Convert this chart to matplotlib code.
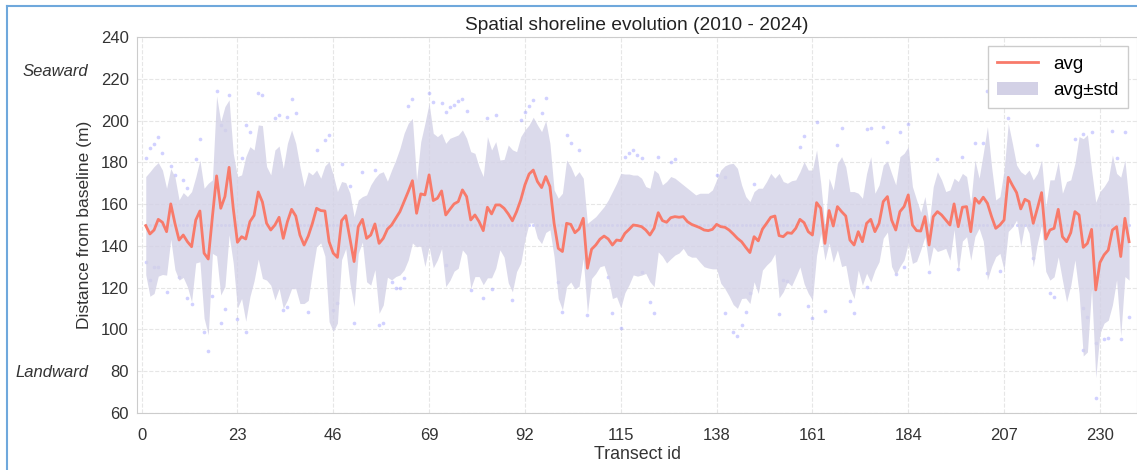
import numpy as np
import matplotlib
matplotlib.use("Agg")
from matplotlib import pyplot as plt
from matplotlib.lines import Line2D

plt.rcParams['font.family'] = ['Liberation Sans', 'DejaVu Sans']

# transect ids 1..237
transect_id = list(range(1, 238))

avg = [
    149.7, 145.7, 147.6, 152.7, 151.3, 146.8, 160.1, 150.8, 142.8, 145.2,
    142.0, 139.6, 152.4, 156.7, 136.5, 133.7, 154.0, 173.5, 158.0, 163.6,
    177.6, 158.0, 141.7, 144.4, 143.3, 151.6, 154.6, 165.8, 161.0, 150.8,
    147.6, 150.0, 153.7, 143.6, 151.6, 157.5, 154.3, 145.2, 140.4, 144.7,
    150.8, 158.0, 156.9, 156.7, 142.0, 136.5, 134.5, 152.1, 154.5, 143.6,
    132.5, 149.2, 152.7, 143.6, 145.2, 150.5, 141.2, 143.6, 148.0, 150.0,
    153.2, 156.4, 161.2, 166.0, 171.2, 155.6, 164.9, 164.4, 174.0, 161.7,
    162.8, 166.3, 154.8, 157.5, 160.1, 161.2, 166.8, 163.6, 152.4, 154.8,
    151.6, 147.3, 158.5, 155.3, 159.6, 159.6, 158.0, 155.3, 152.0, 156.4,
    162.0, 169.2, 174.4, 176.3, 170.8, 167.9, 173.2, 168.4, 150.8, 138.8,
    137.3, 150.8, 150.3, 146.3, 148.1, 153.2, 129.3, 138.4, 140.4, 143.2,
    144.7, 143.3, 140.4, 142.8, 142.5, 146.0, 147.9, 150.0, 149.7, 149.2,
    147.6, 145.2, 148.4, 155.9, 152.1, 151.3, 153.5, 154.0, 153.7, 154.0,
    151.6, 150.3, 149.5, 148.7, 147.6, 147.3, 147.9, 150.3, 149.2, 148.9,
    147.6, 145.7, 143.6, 142.0, 139.3, 136.8, 144.4, 142.4, 148.0, 150.8,
    153.7, 154.3, 144.9, 144.4, 146.3, 146.0, 148.4, 152.7, 151.1, 146.8,
    145.2, 160.7, 158.0, 141.2, 156.9, 149.5, 158.8, 156.4, 154.3, 142.8,
    140.4, 146.8, 142.0, 150.8, 152.7, 146.8, 150.8, 161.2, 163.6, 152.4,
    147.6, 156.4, 158.8, 164.4, 150.0, 147.3, 147.1, 154.0, 140.4, 154.0,
    156.4, 154.8, 152.4, 150.0, 160.1, 149.2, 158.5, 158.8, 146.8, 162.8,
    160.4, 163.3, 160.4, 154.0, 148.4, 150.0, 152.4, 172.8, 169.0, 165.5,
    157.7, 162.3, 161.2, 150.8, 158.0, 165.5, 143.3, 147.6, 148.4, 157.5,
    144.4, 142.0, 146.3, 156.4, 154.8, 139.3, 141.2, 147.9, 118.9, 132.0,
    135.7, 138.0, 147.6, 149.2, 134.9, 153.2, 142.0,
]

std = [
    23.5, 29.8, 30.4, 27.2, 25.0, 20.8, 16.9, 22.2, 19.2, 20.3,
    21.6, 26.4, 20.6, 24.3, 31.1, 36.3, 17.6, 38.3, 41.5, 43.1,
    32.3, 26.3, 31.5, 29.6, 39.4, 35.9, 31.3, 32.1, 36.6, 27.2,
    26.4, 35.9, 34.1, 33.5, 37.5, 38.0, 34.8, 32.8, 28.0, 30.8,
    23.2, 18.3, 15.5, 21.6, 38.3, 37.5, 31.5, 18.7, 15.8, 21.6,
    21.5, 12.8, 10.9, 20.8, 24.0, 21.9, 33.5, 31.9, 23.0, 26.3,
    27.9, 30.3, 32.7, 32.7, 29.8, 16.0, 25.0, 34.3, 34.3, 32.2,
    29.5, 27.6, 34.3, 34.0, 32.2, 31.9, 28.7, 27.9, 32.7, 29.5,
    26.3, 25.9, 33.8, 30.6, 30.3, 21.5, 23.4, 33.0, 34.0, 28.7,
    30.3, 26.3, 23.5, 25.3, 27.1, 26.8, 26.8, 20.7, 16.0, 24.0,
    27.9, 30.3, 27.6, 26.9, 27.4, 19.2, 21.5, 14.0, 13.6, 13.2,
    14.1, 18.7, 25.6, 27.2, 32.2, 28.4, 26.5, 23.9, 24.2, 23.2,
    20.8, 22.4, 27.9, 18.8, 17.1, 19.5, 19.7, 18.4, 17.1, 15.2,
    16.0, 15.7, 14.9, 16.5, 17.6, 17.9, 18.9, 21.3, 27.1, 29.4,
    31.6, 33.8, 33.5, 27.2, 24.3, 24.4, 21.6, 25.2, 19.6, 20.0,
    21.0, 18.1, 29.8, 26.4, 23.7, 25.2, 23.2, 22.8, 29.2, 29.5,
    31.1, 25.2, 12.0, 8.0, 15.5, 17.3, 20.7, 26.3, 23.6, 23.2,
    25.6, 18.4, 20.8, 23.9, 30.0, 18.4, 18.4, 17.5, 17.0, 22.3,
    21.6, 26.3, 25.5, 23.1, 18.4, 14.7, 9.0, 9.6, 10.0, 14.4,
    19.1, 16.8, 13.6, 16.8, 12.3, 21.6, 16.2, 14.4, 13.6, 18.3,
    12.0, 21.0, 36.7, 23.9, 13.6, 13.6, 23.9, 25.9, 20.0, 13.2,
    17.8, 11.7, 15.1, 20.8, 16.7, 15.6, 15.5, 24.0, 23.2, 22.8,
    20.8, 28.8, 25.3, 23.1, 37.5, 52.0, 52.0, 28.4, 42.0, 34.0,
    32.7, 33.6, 35.9, 25.5, 38.0, 27.9, 18.4,
]

# individual yearly positions (outliers mostly)
dot_ids = [
    1, 2, 3, 4, 5, 1, 2, 3, 4, 6, 7, 8, 9, 10, 11, 11, 12, 13, 14, 15,
    16, 17, 18, 19, 20, 21, 20, 19, 23, 25, 25, 26, 24, 28,
    29, 32, 33, 35, 36, 37, 34, 35, 40, 44, 45, 46, 47, 51, 57, 58, 53, 56, 50, 48, 42,
    64, 65, 69, 70, 72, 73, 74, 75, 76, 77, 78, 83, 85, 61, 62, 63, 79, 82, 84, 73, 60,
    92, 93, 94, 97, 96, 91, 102, 103, 105, 101, 107, 113, 115, 89, 100, 112, 116, 117, 118,
    119, 120, 124, 127, 128, 122, 123, 120, 140, 142, 143, 144, 145, 146, 138, 140, 147,
    162, 159, 158, 168, 167, 174, 175, 178, 153, 161, 160, 164, 171, 170, 174, 154, 155,
    184, 182, 179, 203, 200, 202, 181, 183, 189, 196, 203, 206, 208, 191, 197,
    224, 226, 228, 233, 236, 234, 215, 226, 226, 229, 231, 232, 235, 229, 227, 237, 219, 218, 214,
]
dot_vals = [
    181.9, 186.7, 188.6, 192.0, 184.6, 132.5, 123.7, 129.7, 130.0, 117.8,
    178.3, 174.0, 125.3, 171.6, 167.6, 114.9, 112.2, 181.8, 191.2, 99.0,
    89.7, 116.0, 214.3, 197.9, 195.5, 212.2, 109.6, 102.9, 104.9, 99.0,
    197.9, 194.7, 181.9, 213.4,
    212.2, 201.1, 202.7, 201.6, 210.3, 203.5, 109.3, 110.9, 108.5, 190.7,
    193.1, 109.3, 112.5, 102.9, 102.1, 102.9, 175.2, 176.3, 168.7, 179.2, 185.9,
    207.0, 210.2, 213.0, 209.0, 208.3, 204.3, 206.3, 207.5, 209.5, 210.2,
    204.7, 201.1, 202.7, 119.7, 119.7, 124.5, 118.9, 114.9, 119.2, 130.9, 122.9,
    204.3, 207.0, 209.9, 210.6, 203.5, 200.3, 193.1, 189.1, 185.9, 108.5,
    106.9, 107.7, 100.5, 114.1, 122.9, 125.3, 182.7, 184.3, 185.9,
    183.5, 181.9, 182.4, 180.3, 181.4, 113.3, 107.7, 127.7, 107.7, 99.0,
    96.9, 102.1, 108.5, 117.3, 173.9, 173.2, 169.6,
    199.5, 192.6, 187.5, 196.3, 188.3, 195.8, 196.6, 197.1, 107.4, 105.3,
    111.4, 109.0, 107.7, 113.8, 120.5, 123.7, 123.4,
    198.4, 194.7, 189.9, 214.3, 189.4, 189.1, 126.6, 130.1, 127.5, 128.8,
    126.9, 128.2, 201.1, 181.4, 182.7,
    191.0, 193.6, 194.7, 195.0, 194.4, 182.2, 188.3, 110.1, 90.2, 93.4,
    95.3, 95.8, 95.3, 67.0, 106.1, 106.1, 115.7, 117.6, 134.1,
]
baseline_vals = [150.0] * len(transect_id)

avg = np.array(avg)
std = np.array(std)

fig = plt.figure(figsize=(11.37, 4.70), dpi=100)
ax = fig.add_axes([0.1205, 0.1213, 0.8795, 0.8])

ax.scatter(transect_id, baseline_vals, s=5, color='#9a9aff', alpha=0.45, lw=0, zorder=1)
ax.scatter(dot_ids, dot_vals, s=7, color='#9a9aff', alpha=0.45, lw=0, zorder=1)
ax.fill_between(transect_id, avg - std, avg + std, color='#d3d1e6', alpha=0.8,
                lw=0, zorder=2, label='avg±std')
ax.plot(transect_id, avg, color='#f87a6a', lw=2, zorder=3, label='avg')

ax.set_xlim(-1.1, 238.9)
ax.set_ylim(60, 240)
ax.set_xticks(range(0, 231, 23))
ax.set_yticks(range(60, 241, 20))
ax.grid(True, color='#e6e6e6', ls='--', lw=0.8)
ax.set_axisbelow(True)
for s in ax.spines.values():
    s.set_color('#cccccc')
ax.tick_params(length=0, labelsize=12, labelcolor='#333333')
ax.tick_params(axis='x', pad=11)
ax.tick_params(axis='y', pad=6)

ax.set_title('Spatial shoreline evolution (2010 - 2024)', fontsize=13.8,
             color='#222222', pad=5)
ax.set_xlabel('Transect id', fontsize=12.8, color='#333333', labelpad=2)
ax.set_ylabel('Distance from baseline (m)', fontsize=12.5, color='#333333', labelpad=6)

ax.text(-0.049, 0.909, 'Seaward', transform=ax.transAxes, ha='right', va='center',
        fontsize=12, style='italic', color='#333333')
ax.text(-0.049, 0.109, 'Landward', transform=ax.transAxes, ha='right', va='center',
        fontsize=12, style='italic', color='#333333')

handles = [Line2D([0], [0], color='#f87a6a', lw=2),
           plt.Rectangle((0, 0), 1, 1, fc='#d3d1e6', ec='none')]
leg = ax.legend(handles, ['avg', 'avg±std'], loc='upper right', fontsize=13.5,
                fancybox=False, edgecolor='#cccccc', framealpha=1,
                borderpad=0.5, handlelength=2.2, borderaxespad=0,
                bbox_to_anchor=(0.991, 0.976))
leg.get_frame().set_linewidth(1)

# blue frame of the notebook cell
fig.add_artist(Line2D([7 / 1137, 7 / 1137], [0, 1 - 6 / 470], color='#6fa8dc', lw=1.5))
fig.add_artist(Line2D([7 / 1137, 1], [1 - 6 / 470, 1 - 6 / 470], color='#6fa8dc', lw=1.5))

fig.savefig('out.png', dpi=100)
